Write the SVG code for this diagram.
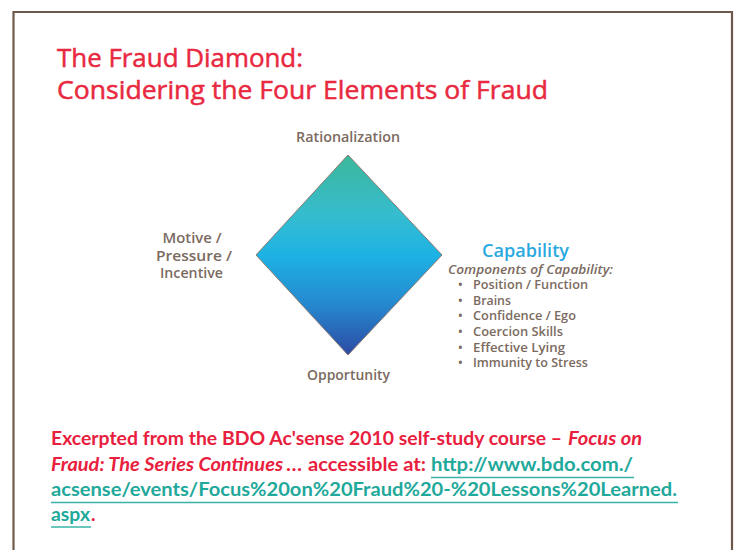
<svg xmlns="http://www.w3.org/2000/svg" width="738" height="550" viewBox="0 0 738 550">
<defs>
<linearGradient id="dg" x1="0" y1="0" x2="0" y2="1">
<stop offset="0" stop-color="#3cb89a"/>
<stop offset="0.3" stop-color="#36bccf"/>
<stop offset="0.5" stop-color="#1db2e4"/>
<stop offset="0.75" stop-color="#2688cf"/>
<stop offset="1" stop-color="#2c4aa3"/>
</linearGradient>
<style>
.title{font-family:"Open Sans","DejaVu Sans",sans-serif;font-size:26px;fill:#e8293f;stroke:#e8293f;stroke-width:0.5px;}
.lbl{font-family:"Open Sans","DejaVu Sans",sans-serif;font-weight:600;font-size:14px;fill:#7b6a60;}
.cap{font-family:"Open Sans","DejaVu Sans",sans-serif;font-weight:600;font-size:18px;fill:#2aa9e0;}
.comp{font-family:"Open Sans","DejaVu Sans",sans-serif;font-weight:600;font-style:italic;font-size:12.5px;fill:#7b6a60;}
.item{font-family:"Open Sans","DejaVu Sans",sans-serif;font-weight:600;font-size:12.5px;fill:#7b6a60;}
.red{font-family:Lato,"Open Sans",sans-serif;font-weight:bold;font-size:19px;fill:#e8203e;}
.it{font-style:italic;}
.link{font-family:Lato,"Open Sans",sans-serif;font-weight:bold;font-size:19px;fill:#1fa99b;}
.ul{stroke:#3ab3a7;stroke-width:1.5;}
</style>
</defs>
<rect width="738" height="550" fill="#ffffff"/>
<path d="M13.5,550 V12 H732 V550" fill="none" stroke="#6e5a4c" stroke-width="2.2"/>

<g id="title">
<text class="title" x="57" y="67" textLength="246" lengthAdjust="spacingAndGlyphs">The Fraud Diamond:</text>
<text class="title" x="57" y="98.5" textLength="491" lengthAdjust="spacingAndGlyphs">Considering the Four Elements of Fraud</text>
</g>

<g id="diamond">
<polygon points="348,155 442,255 348,355 256,255" fill="url(#dg)" stroke="#8a7a70" stroke-width="1"/>
</g>

<g id="rationalization">
<text class="lbl" x="348" y="141.5" text-anchor="middle" textLength="104" lengthAdjust="spacingAndGlyphs">Rationalization</text>
</g>

<g id="motive">
<text class="lbl" x="192" y="243" text-anchor="middle" textLength="59" lengthAdjust="spacingAndGlyphs">Motive /</text>
<text class="lbl" x="194" y="260.5" text-anchor="middle" textLength="76" lengthAdjust="spacingAndGlyphs">Pressure /</text>
<text class="lbl" x="191.5" y="278" text-anchor="middle" textLength="63" lengthAdjust="spacingAndGlyphs">Incentive</text>
</g>

<g id="opportunity">
<text class="lbl" x="348.5" y="380" text-anchor="middle" textLength="83" lengthAdjust="spacingAndGlyphs">Opportunity</text>
</g>

<g id="capability">
<text class="cap" x="482" y="257" textLength="87" lengthAdjust="spacingAndGlyphs">Capability</text>
<text class="comp" x="448" y="273.5" textLength="165" lengthAdjust="spacingAndGlyphs">Components of Capability:</text>
<g>
<text class="item" x="458" y="289">•</text>
<text class="item" x="473" y="289" textLength="115" lengthAdjust="spacingAndGlyphs">Position / Function</text>
<text class="item" x="458" y="304.5">•</text>
<text class="item" x="473" y="304.5" textLength="38" lengthAdjust="spacingAndGlyphs">Brains</text>
<text class="item" x="458" y="320">•</text>
<text class="item" x="473" y="320" textLength="103" lengthAdjust="spacingAndGlyphs">Confidence / Ego</text>
<text class="item" x="458" y="336">•</text>
<text class="item" x="473" y="336" textLength="90" lengthAdjust="spacingAndGlyphs">Coercion Skills</text>
<text class="item" x="458" y="351.5">•</text>
<text class="item" x="473" y="351.5" textLength="92" lengthAdjust="spacingAndGlyphs">Effective Lying</text>
<text class="item" x="458" y="367">•</text>
<text class="item" x="473" y="367" textLength="115" lengthAdjust="spacingAndGlyphs">Immunity to Stress</text>
</g>
</g>

<g id="source">
<text class="red" x="51" y="445" textLength="511" lengthAdjust="spacingAndGlyphs">Excerpted from the BDO Ac'sense 2010 self-study course –</text>
<text class="red it" x="568" y="445" textLength="74" lengthAdjust="spacingAndGlyphs">Focus on</text>
<text class="red it" x="51" y="471" textLength="232" lengthAdjust="spacingAndGlyphs">Fraud: The Series Continues</text>
<text class="red" x="286" y="471" textLength="16" lengthAdjust="spacingAndGlyphs">…</text>
<text class="red" x="308" y="471" textLength="118" lengthAdjust="spacingAndGlyphs">accessible at:</text>
<text class="link" x="431" y="471" textLength="202" lengthAdjust="spacingAndGlyphs">http://www.bdo.com./</text>
<line class="ul" x1="431" y1="477.5" x2="634" y2="477.5"/>
<text class="link" x="51" y="496" textLength="626" lengthAdjust="spacingAndGlyphs">acsense/events/Focus%20on%20Fraud%20-%20Lessons%20Learned.</text>
<line class="ul" x1="51" y1="502.5" x2="678" y2="502.5"/>
<text class="link" x="51" y="520.5" textLength="39" lengthAdjust="spacingAndGlyphs">aspx</text>
<line class="ul" x1="51" y1="527" x2="91" y2="527"/>
<text class="red" x="91" y="520.5">.</text>
</g>
</svg>
